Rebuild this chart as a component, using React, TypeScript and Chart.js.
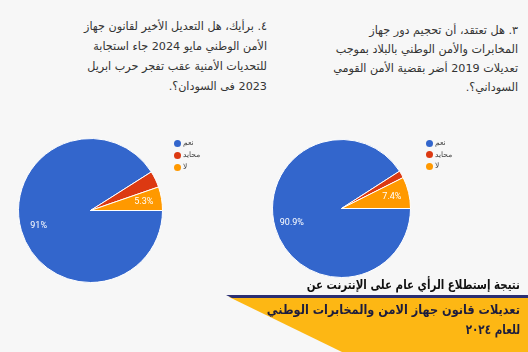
import { useEffect, useRef } from "react";
import { Chart, registerables } from "chart.js";
Chart.register(...registerables);

const categories = ["نعم", "محايد", "لا"];
const sliceColors = ["#3366CC", "#DC3912", "#FF9900"];
const q4Values = [91, 3.7, 5.3];
const q3Values = [90.9, 1.7, 7.4];
const q4SliceLabels = ["91%", "", "5.3%"];
const q3SliceLabels = ["90.9%", "", "7.4%"];
const q4Lines = [
  "٤. برأيك، هل التعديل الأخير لقانون جهاز",
  "الأمن الوطني مايو 2024 جاء استجابة",
  "للتحديات الأمنية عقب تفجر حرب ابريل",
  "2023 فى السودان؟.",
];
const q3Lines = [
  "٣. هل تعتقد، أن تحجيم دور جهاز",
  "المخابرات والأمن الوطني بالبلاد بموجب",
  "تعديلات 2019 أضر بقضية الأمن القومي",
  "السوداني؟.",
];
const bannerTitle = "نتيجة إستطلاع الرأي عام على الإنترنت عن";
const bannerLines = ["تعديلات قانون جهاز الامن والمخابرات الوطني", "للعام ٢٠٢٤"];

const AR = "'DejaVu Sans', sans-serif";

function Pie(props: { values: number[]; labels: string[]; left: number; top: number; size: number }) {
  const ref = useRef<HTMLCanvasElement | null>(null);
  useEffect(() => {
    if (!ref.current) return;
    const sliceLabels = props.labels;
    const labelPlugin = {
      id: "sliceLabels",
      afterDatasetsDraw(chart: any) {
        const ctx = chart.ctx;
        const meta = chart.getDatasetMeta(0);
        meta.data.forEach((arc: any, i: number) => {
          const t = sliceLabels[i];
          if (!t) return;
          const p = arc.getProps(["x", "y", "startAngle", "endAngle", "outerRadius"], true);
          const mid = (p.startAngle + p.endAngle) / 2;
          const r = p.outerRadius * 0.75;
          ctx.save();
          ctx.fillStyle = "#ffffff";
          ctx.font = "9px Roboto, Arial, sans-serif";
          ctx.textAlign = "center";
          ctx.textBaseline = "middle";
          ctx.fillText(t, p.x + Math.cos(mid) * r, p.y + Math.sin(mid) * r);
          ctx.restore();
        });
      },
    };
    const chart = new Chart(ref.current, {
      type: "pie",
      data: {
        labels: categories,
        datasets: [
          {
            data: props.values,
            backgroundColor: sliceColors,
            borderColor: "#ffffff",
            borderWidth: 1,
          },
        ],
      },
      options: {
        animation: false,
        responsive: false,
        rotation: 90,
        layout: { padding: 0 },
        plugins: { legend: { display: false }, tooltip: { enabled: false } },
      },
      plugins: [labelPlugin],
    });
    return () => chart.destroy();
  }, []);
  return (
    <canvas
      ref={ref}
      width={props.size}
      height={props.size}
      style={{ position: "absolute", left: props.left, top: props.top, width: props.size, height: props.size }}
    />
  );
}

function Legend(props: { x: number; y: number; gap: number }) {
  return (
    <>
      {categories.map((c, i) => (
        <div key={i}>
          <div
            style={{
              position: "absolute",
              left: props.x - 3.5,
              top: props.y + i * props.gap - 3.5,
              width: 7,
              height: 7,
              borderRadius: "50%",
              background: sliceColors[i],
            }}
          />
          <div
            style={{
              position: "absolute",
              left: props.x + 6,
              top: props.y + i * props.gap - 6,
              height: 12,
              lineHeight: "12px",
              fontSize: 7.5,
              fontFamily: AR,
              color: "#444",
              whiteSpace: "nowrap",
            }}
          >
            {c}
          </div>
        </div>
      ))}
    </>
  );
}

function Question(props: { lines: string[]; right: number; top: number; lh: number }) {
  return (
    <div
      dir="rtl"
      style={{
        position: "absolute",
        right: 528 - props.right,
        top: props.top,
        textAlign: "right",
        fontFamily: AR,
        fontSize: 11.2,
        lineHeight: props.lh + "px",
        color: "#333",
        whiteSpace: "nowrap",
      }}
    >
      {props.lines.map((l, i) => (
        <div key={i}>{l}</div>
      ))}
    </div>
  );
}

function BannerLine(props: { text: string; top: number; scale: number; color: string }) {
  return (
    <div
      dir="rtl"
      style={{
        position: "absolute",
        right: 8,
        top: props.top,
        fontFamily: AR,
        fontWeight: "bold",
        fontSize: 13,
        lineHeight: "18px",
        color: props.color,
        whiteSpace: "nowrap",
        textAlign: "right",
        transform: `scaleX(${props.scale})`,
        transformOrigin: "right center",
      }}
    >
      {props.text}
    </div>
  );
}

export default function App() {
  return (
    <div
      style={{
        position: "fixed",
        left: 0,
        top: 0,
        width: 528,
        height: 352,
        overflow: "hidden",
        background: "#f7f7f7",
      }}
    >
      <Question lines={q4Lines} right={267} top={17} lh={20} />
      <Question lines={q3Lines} right={518} top={21} lh={19} />
      <Pie values={q4Values} labels={q4SliceLabels} left={18} top={138} size={145} />
      <Pie values={q3Values} labels={q3SliceLabels} left={272} top={139} size={139} />
      <Legend x={177} y={143} gap={12} />
      <Legend x={429} y={143} gap={11.5} />
      <svg width={528} height={352} style={{ position: "absolute", left: 0, top: 0 }}>
        <polygon points="229,297 528,297 528,352 342,352" fill="#FDB714" />
        <polygon points="226,295 528,295 528,298 232,298" fill="#2B2F72" />
      </svg>
      <BannerLine text={bannerTitle} top={276} scale={0.79} color="#111" />
      <BannerLine text={bannerLines[0]} top={301} scale={0.87} color="#1d1d3d" />
      <BannerLine text={bannerLines[1]} top={321} scale={0.8} color="#1d1d3d" />
    </div>
  );
}
